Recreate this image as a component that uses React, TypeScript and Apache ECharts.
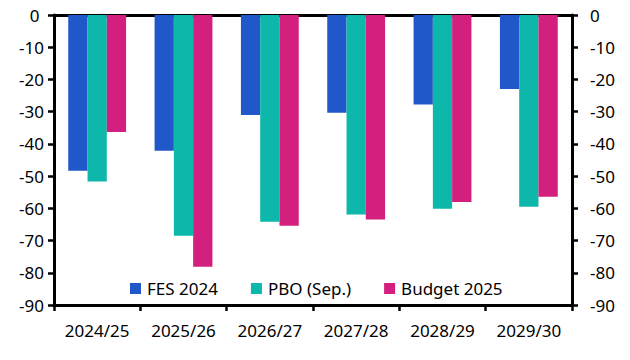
import React, { useEffect, useRef } from "react";
import * as echarts from "echarts";

const categories = ["2024/25", "2025/26", "2026/27", "2027/28", "2028/29", "2029/30"];
const fes2024 = [-48.3, -42.1, -31.0, -30.3, -27.8, -23.0];
const pboSep = [-51.7, -68.5, -64.2, -61.9, -60.1, -59.5];
const budget2025 = [-36.3, -78.1, -65.4, -63.5, -58.0, -56.4];
const seriesNames = ["FES 2024", "PBO (Sep.)", "Budget 2025"];
const colors = ["#2057C9", "#0DB8AA", "#D3207E"];

const FONT = "Noto Sans";

export default function App() {
  const ref = useRef<HTMLDivElement>(null);
  useEffect(() => {
    if (!ref.current) return;
    const chart = echarts.init(ref.current, null, { renderer: "svg" });
    const axisLine = { show: true, onZero: false, lineStyle: { color: "#000", width: 3 } };
    const yCommon = {
      type: "value" as const,
      min: -90,
      max: 0,
      interval: 10,
      axisLine,
      axisTick: { show: true, length: 6, lineStyle: { color: "#000", width: 2.5 } },
      splitLine: { show: false },
    };
    chart.setOption({
      animation: false,
      backgroundColor: "#fff",
      color: colors,
      grid: { left: 54, right: 58, top: 15, bottom: 55, containLabel: false },
      legend: {
        left: 125,
        top: 275,
        itemWidth: 11,
        itemHeight: 11,
        itemGap: 33,
        icon: "rect",
        textStyle: { fontFamily: FONT, fontSize: 17, color: "#000", padding: [0, 0, 0, 1] },
        data: seriesNames,
      },
      xAxis: [
        {
          type: "category",
          data: categories,
          position: "bottom",
          axisLine,
          axisTick: { show: true, length: 6, lineStyle: { color: "#000", width: 2.5 } },
          axisLabel: { fontFamily: FONT, fontSize: 17, color: "#000", margin: 17, interval: 0 },
          splitLine: { show: false },
        },
        {
          type: "category",
          data: categories,
          position: "top",
          axisLine,
          axisTick: { show: false },
          axisLabel: { show: false },
        },
      ],
      yAxis: [
        {
          ...yCommon,
          position: "left",
          axisLabel: {
            fontFamily: FONT,
            fontSize: 17,
            color: "#000",
            margin: 10,
            formatter: (v: number) => (v === 0 ? "0 " : String(v)),
          },
        },
        {
          ...yCommon,
          position: "right",
          axisLabel: { fontFamily: FONT, fontSize: 17, color: "#000", margin: 18 },
        },
      ],
      series: [
        { name: seriesNames[0], type: "bar", data: fes2024, barGap: "0%", barCategoryGap: "33%" },
        { name: seriesNames[1], type: "bar", data: pboSep, barGap: "0%", barCategoryGap: "33%" },
        { name: seriesNames[2], type: "bar", data: budget2025, barGap: "0%", barCategoryGap: "33%" },
      ],
    });
    return () => chart.dispose();
  }, []);
  return <div ref={ref} style={{ width: 630, height: 360, position: "absolute", left: 0, top: 0 }} />;
}
